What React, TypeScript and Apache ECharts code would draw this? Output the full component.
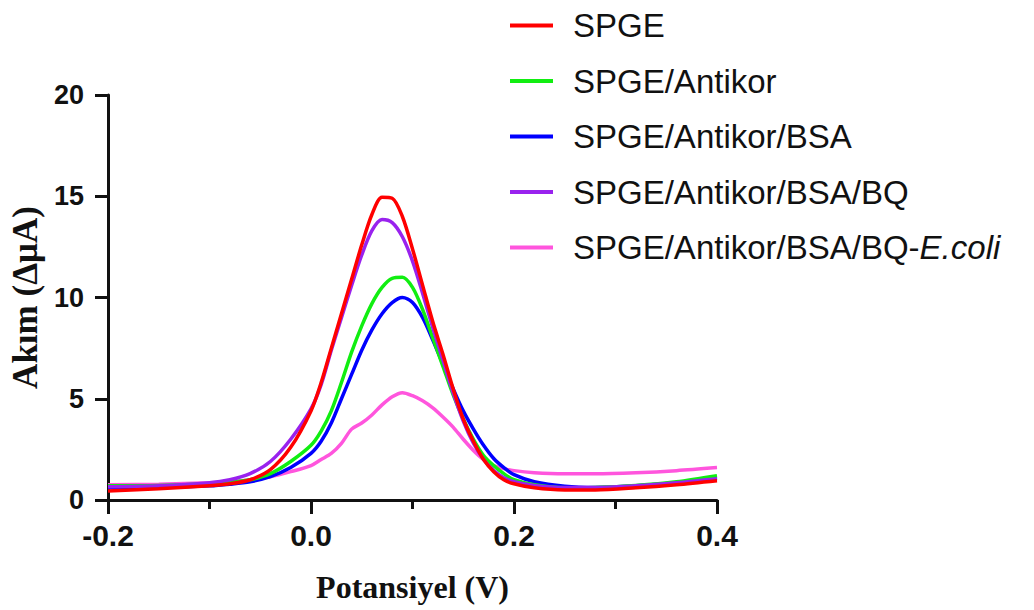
import React, { useEffect, useRef } from "react";
import * as echarts from "echarts";

const potentials = [-0.2, -0.15, -0.1, -0.08, -0.06, -0.04, -0.02, 0, 0.01, 0.02, 0.03, 0.04, 0.05, 0.06, 0.07, 0.08, 0.09, 0.1, 0.11, 0.12, 0.13, 0.14, 0.15, 0.16, 0.17, 0.18, 0.19, 0.2, 0.22, 0.25, 0.28, 0.32, 0.36, 0.4];

const spge = [0.45, 0.55, 0.7, 0.8, 1.0, 1.5, 2.6, 4.4, 5.8, 7.5, 9.2, 10.9, 12.6, 14.1, 14.95, 14.9, 14.0, 12.4, 10.6, 8.8, 7.2, 5.5, 4.0, 2.9, 2.0, 1.4, 1.0, 0.8, 0.6, 0.5, 0.5, 0.6, 0.75, 0.95];
const antikor = [0.7, 0.72, 0.8, 0.88, 1.0, 1.3, 1.9, 2.7, 3.4, 4.4, 5.8, 7.3, 8.6, 9.7, 10.5, 10.95, 11.0, 10.5, 9.4, 8.0, 6.6, 5.2, 4.0, 3.0, 2.2, 1.7, 1.3, 1.0, 0.75, 0.6, 0.62, 0.72, 0.9, 1.2];
const bsa = [0.6, 0.62, 0.7, 0.78, 0.9, 1.15, 1.6, 2.3, 2.9, 3.8, 5.0, 6.2, 7.4, 8.4, 9.2, 9.75, 10.0, 9.75, 9.0, 7.9, 6.7, 5.5, 4.4, 3.5, 2.7, 2.05, 1.6, 1.25, 0.9, 0.68, 0.62, 0.7, 0.85, 1.1];
const bq = [0.65, 0.7, 0.85, 1.0, 1.3, 1.9, 3.0, 4.5, 5.7, 7.4, 9.0, 10.6, 12.1, 13.3, 13.85, 13.7, 13.0, 11.8, 10.2, 8.5, 6.9, 5.3, 3.9, 2.8, 2.0, 1.45, 1.1, 0.9, 0.72, 0.62, 0.62, 0.7, 0.85, 1.05];
const ecoli = [0.75, 0.78, 0.85, 0.9, 1.0, 1.15, 1.4, 1.7, 2.0, 2.3, 2.8, 3.5, 3.8, 4.2, 4.7, 5.1, 5.3, 5.15, 4.9, 4.55, 4.1, 3.6, 3.0, 2.45, 2.0, 1.7, 1.55, 1.45, 1.35, 1.3, 1.3, 1.35, 1.45, 1.6];

const seriesNames = [
  "SPGE",
  "SPGE/Antikor",
  "SPGE/Antikor/BSA",
  "SPGE/Antikor/BSA/BQ",
  "SPGE/Antikor/BSA/BQ-E.coli",
];
const seriesValues = [spge, antikor, bsa, bq, ecoli];
const seriesColors = ["#ff0000", "#11ee11", "#0000ff", "#9922ee", "#ff55dd"];
const drawOrder = [4, 2, 1, 3, 0];

const yTicks = [0, 5, 10, 15, 20];
const xTicks = [-0.2, 0.0, 0.2, 0.4];

export default function App() {
  const ref = useRef<HTMLDivElement>(null);
  useEffect(() => {
    if (!ref.current) return;
    const chart = echarts.init(ref.current, null, { renderer: "svg" });
    const legendFont = "'Liberation Sans', Arial, sans-serif";
    chart.setOption({
      animation: false,
      backgroundColor: "#ffffff",
      grid: { left: 108, right: 317, top: 95, bottom: 110, containLabel: false },
      legend: {
        data: seriesNames,
        orient: "vertical",
        left: 505,
        top: 4,
        icon: "rect",
        itemWidth: 43,
        itemHeight: 4,
        itemGap: 22.5,
        textStyle: {
          fontFamily: legendFont,
          fontSize: 33,
          lineHeight: 33,
          color: "#111",
          padding: [0, 0, 0, 15],
          rich: {
            n: { fontFamily: legendFont, fontSize: 33, lineHeight: 33, color: "#111" },
            i: { fontFamily: legendFont, fontSize: 33, lineHeight: 33, color: "#111", fontStyle: "italic" },
          },
        },
        formatter: (name: string) =>
          name === "SPGE/Antikor/BSA/BQ-E.coli" ? "{n|SPGE/Antikor/BSA/BQ-}{i|E.coli}" : name,
      },
      xAxis: {
        type: "value",
        min: xTicks[0],
        max: xTicks[xTicks.length - 1],
        interval: 0.2,
        name: "Potansiyel (V)",
        nameLocation: "middle",
        nameGap: 71,
        nameTextStyle: {
          fontFamily: "'Liberation Serif', 'Times New Roman', serif",
          fontWeight: "bold",
          fontSize: 32,
          color: "#111",
        },
        axisLine: { show: true, onZero: false, lineStyle: { color: "#111", width: 3 } },
        axisTick: { show: true, length: 14, lineStyle: { color: "#111", width: 3 } },
        minorTick: { show: true, splitNumber: 2, length: 9, lineStyle: { color: "#111", width: 3 } },
        splitLine: { show: false },
        minorSplitLine: { show: false },
        axisLabel: {
          margin: 20,
          fontFamily: "'Liberation Sans', Arial, sans-serif",
          fontWeight: "bold",
          fontSize: 30,
          color: "#111",
          formatter: (v: number) => v.toFixed(1),
        },
      },
      yAxis: {
        type: "value",
        min: yTicks[0],
        max: yTicks[yTicks.length - 1],
        interval: 5,
        name: "Akım (ΔμA)",
        nameLocation: "middle",
        nameGap: 64,
        nameTextStyle: {
          fontFamily: "'Liberation Serif', 'Times New Roman', serif",
          fontWeight: "bold",
          fontSize: 35,
          color: "#111",
        },
        axisLine: { show: true, onZero: false, lineStyle: { color: "#111", width: 3 } },
        axisTick: { show: true, length: 13, lineStyle: { color: "#111", width: 3 } },
        splitLine: { show: false },
        axisLabel: {
          margin: 24,
          fontFamily: "'Liberation Sans', Arial, sans-serif",
          fontWeight: "bold",
          fontSize: 27,
          color: "#111",
        },
      },
      series: drawOrder.map((i) => ({
        name: seriesNames[i],
        type: "line",
        data: potentials.map((x, k) => [x, seriesValues[i][k]]),
        smooth: 0.3,
        showSymbol: false,
        symbol: "none",
        lineStyle: { color: seriesColors[i], width: 3.5 },
        itemStyle: { color: seriesColors[i] },
      })),
    });
    return () => chart.dispose();
  }, []);
  return <div ref={ref} style={{ width: 1034, height: 610, position: "absolute", left: 0, top: 0 }} />;
}
